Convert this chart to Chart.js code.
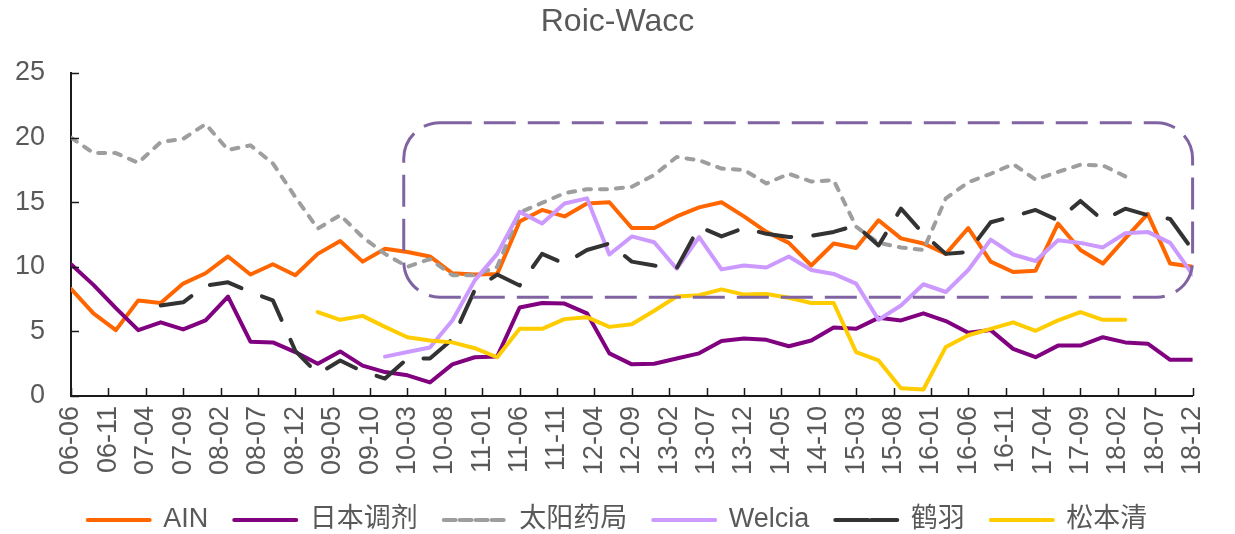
<!DOCTYPE html>
<html>
<head>
<meta charset="utf-8">
<script src="https://cdn.jsdelivr.net/npm/chart.js@4.4.0/dist/chart.umd.min.js"></script>
<style>
  html, body { margin: 0; padding: 0; background: #fff; }
  #wrap { width: 1235px; height: 534px; }
</style>
</head>
<body>
<div id="wrap"><canvas id="roicChart"></canvas></div>
<script>
// quarterly observations (yy-mm)
const quarters = [
  '06-06', '06-09', '06-12', '07-03', '07-06', '07-09', '07-12', '08-03', '08-06', '08-09',
  '08-12', '09-03', '09-06', '09-09', '09-12', '10-03', '10-06', '10-09', '10-12', '11-03',
  '11-06', '11-09', '11-12', '12-03', '12-06', '12-09', '12-12', '13-03', '13-06', '13-09',
  '13-12', '14-03', '14-06', '14-09', '14-12', '15-03', '15-06', '15-09', '15-12', '16-03',
  '16-06', '16-09', '16-12', '17-03', '17-06', '17-09', '17-12', '18-03', '18-06', '18-09',
  '18-12'
];

// axis labels, one every 5 months
const tickLabels = [
  '06-06', '06-11', '07-04', '07-09', '08-02', '08-07', '08-12', '09-05', '09-10', '10-03',
  '10-08', '11-01', '11-06', '11-11', '12-04', '12-09', '13-02', '13-07', '13-12', '14-05',
  '14-10', '15-03', '15-08', '16-01', '16-06', '16-11', '17-04', '17-09', '18-02', '18-07',
  '18-12'
];

const ain = [
  8.3, 6.4, 5.1, 7.4, 7.2, 8.7, 9.5, 10.8, 9.4, 10.2,
  9.35, 11.0, 12.0, 10.4, 11.4, 11.15, 10.8, 9.5, 9.4, 9.45,
  13.5, 14.4, 13.9, 14.9, 15.0, 13.0, 13.0, 13.9, 14.6, 15.0,
  13.9, 12.7, 11.85, 10.1, 11.8, 11.45, 13.6, 12.2, 11.8, 11.0,
  13.0, 10.4, 9.6, 9.7, 13.35, 11.3, 10.25, 12.2, 14.1, 10.25,
  10.0
];
const nipponChozai = [
  10.2, 8.6, 6.8, 5.1, 5.7, 5.15, 5.85, 7.7, 4.2, 4.15,
  3.4, 2.5, 3.45, 2.35, 1.85, 1.6, 1.05, 2.45, 3.0, 3.05,
  6.85, 7.2, 7.15, 6.4, 3.3, 2.45, 2.5, 2.9, 3.3, 4.25,
  4.45, 4.35, 3.85, 4.3, 5.3, 5.2, 6.05, 5.85, 6.4, 5.8,
  4.9, 5.1, 3.65, 3.0, 3.9, 3.9, 4.55, 4.15, 4.05, 2.8,
  2.8
];
const qol = [
  20.0, 18.8, 18.8, 18.05, 19.65, 19.9, 21.05, 19.05, 19.4, 18.0,
  15.4, 12.95, 14.0, 12.3, 11.0, 10.0, 10.6, 9.35, 9.35, 10.0,
  14.2, 14.95, 15.7, 16.0, 16.0, 16.2, 17.1, 18.5, 18.25, 17.6,
  17.5, 16.45, 17.2, 16.6, 16.7, 13.1, 11.85, 11.5, 11.3, 15.3,
  16.55, 17.2, 17.95, 16.75, 17.35, 17.9, 17.85, 17.0, null, null,
  null
];
const welcia = [
  null, null, null, null, null, null, null, null, null, null,
  null, null, null, null, 3.05, 3.4, 3.75, 5.85, 8.95, 11.0,
  14.25, 13.35, 14.9, 15.3, 10.95, 12.35, 11.9, 9.85, 12.3, 9.8,
  10.1, 9.95, 10.8, 9.75, 9.45, 8.7, 5.9, 7.0, 8.65, 8.05,
  9.75, 12.1, 10.95, 10.45, 12.05, 11.85, 11.5, 12.6, 12.7, 11.85,
  9.4
];
const tsuruha = [
  null, null, null, null, 7.0, 7.25, 8.55, 8.8, 8.05, 7.4,
  3.5, 1.7, 2.75, 1.9, 1.35, 2.9, 2.9, 4.4, 8.2, 9.4,
  8.55, 11.0, 10.25, 11.3, 11.8, 10.4, 10.1, 9.9, 13.1, 12.35,
  13.0, 12.55, 12.3, 12.4, 12.7, 13.2, 11.65, 14.5, 12.55, 11.0,
  11.15, 13.45, 13.9, 14.4, 13.6, 15.1, 13.6, 14.5, 14.0, 13.7,
  11.3
];
const matsukiyo = [
  null, null, null, null, null, null, null, null, null, null,
  null, 6.5, 5.9, 6.2, 5.35, 4.55, 4.3, 4.15, 3.7, 3.0,
  5.2, 5.2, 5.95, 6.1, 5.35, 5.55, 6.6, 7.7, 7.8, 8.25,
  7.85, 7.9, 7.6, 7.2, 7.2, 3.4, 2.75, 0.6, 0.5, 3.8,
  4.7, 5.2, 5.7, 5.05, 5.85, 6.5, 5.9, 5.9, null, null,
  null
];

// highlighted region, in months since 06-06 and in axis values
const focusBox = { xMin: 44.5, xMax: 150, yMin: 7.65, yMax: 21.15 };

const FONT = "'Liberation Sans', 'Noto Sans CJK SC', sans-serif";
const TEXT = '#595959';

function monthIndex(label) {
  const parts = label.split('-').map(Number);
  return (parts[0] - 6) * 12 + (parts[1] - 6);
}

function toPoints(values) {
  return values.map((v, i) => ({ x: monthIndex(quarters[i]), y: v }));
}

function series(label, values, color, dash, order) {
  return {
    label: label,
    data: toPoints(values),
    borderColor: color,
    backgroundColor: color,
    borderWidth: 4,
    borderDash: dash,
    borderCapStyle: 'round',
    borderJoinStyle: 'round',
    pointRadius: 0,
    tension: 0,
    spanGaps: false,
    order: order
  };
}

// inward tick marks and the dashed rounded box
const decorations = {
  id: 'decorations',
  afterDatasetsDraw(chart) {
    const { ctx, chartArea } = chart;
    const x = chart.scales.x;
    const y = chart.scales.y;
    ctx.save();
    ctx.strokeStyle = '#1a1a1a';
    ctx.lineWidth = 1.5;
    ctx.beginPath();
    x.ticks.forEach(t => {
      const px = Math.round(x.getPixelForValue(t.value)) + 0.5;
      ctx.moveTo(px, chartArea.bottom);
      ctx.lineTo(px, chartArea.bottom - 8);
    });
    y.ticks.forEach(t => {
      const py = Math.round(y.getPixelForValue(t.value)) + 0.5;
      ctx.moveTo(chartArea.left, py);
      ctx.lineTo(chartArea.left + 8, py);
    });
    ctx.stroke();

    const left = x.getPixelForValue(focusBox.xMin);
    const right = x.getPixelForValue(focusBox.xMax);
    const top = y.getPixelForValue(focusBox.yMax);
    const bottom = y.getPixelForValue(focusBox.yMin);
    ctx.strokeStyle = '#8064A2';
    ctx.lineWidth = 3;
    ctx.setLineDash([32, 12]);
    ctx.beginPath();
    ctx.roundRect(left, top, right - left, bottom - top, 36);
    ctx.stroke();
    ctx.restore();
  }
};

const ctx = document.getElementById('roicChart');
new Chart(ctx, {
  type: 'line',
  data: {
    datasets: [
      series('AIN', ain, '#FF6600', [], 6),
      series('日本调剂', nipponChozai, '#800080', [], 5),
      series('太阳药局', qol, '#9E9E9E', [7, 9], 4),
      series('Welcia', welcia, '#CC99FF', [], 3),
      series('鹤羽', tsuruha, '#333333', [33, 22], 2),
      series('松本清', matsukiyo, '#FFCC00', [], 1)
    ]
  },
  options: {
    responsive: true,
    maintainAspectRatio: false,
    animation: false,
    devicePixelRatio: 1,
    layout: { padding: { left: 0, right: 0, top: 0, bottom: -9.5 } },
    plugins: {
      title: {
        display: true,
        text: 'Roic-Wacc',
        color: TEXT,
        font: { family: FONT, size: 32, weight: 'normal' },
        padding: { top: 3, bottom: 31.6 }
      },
      legend: {
        position: 'bottom',
        labels: {
          color: TEXT,
          font: { family: FONT, size: 27 },
          boxWidth: 62,
          boxHeight: 0,
          padding: 26,
          sort: (a, b) => a.datasetIndex - b.datasetIndex
        }
      },
      tooltip: { enabled: false }
    },
    scales: {
      x: {
        type: 'linear',
        min: 0,
        max: 150,
        grid: { display: false, drawTicks: false },
        border: { color: '#1a1a1a', width: 2 },
        afterBuildTicks(scale) {
          scale.ticks = tickLabels.map((_, i) => ({ value: i * 5 }));
        },
        afterFit(scale) { scale.height = 84.5; },
        ticks: {
          autoSkip: false,
          minRotation: 90,
          maxRotation: 90,
          padding: 10,
          color: TEXT,
          font: { family: FONT, size: 27 },
          callback: (value, index) => tickLabels[index]
        }
      },
      y: {
        min: 0,
        max: 25,
        grid: { display: false, drawTicks: false },
        border: { color: '#1a1a1a', width: 2 },
        afterFit(scale) { scale.width = 71; },
        ticks: {
          stepSize: 5,
          padding: 26,
          color: TEXT,
          font: { family: FONT, size: 27 }
        }
      },
      // empty right-hand margin so title and legend stay centred on the page
      yRight: {
        position: 'right',
        display: true,
        min: 0,
        max: 25,
        grid: { display: false, drawTicks: false },
        border: { display: false },
        ticks: { display: false },
        afterFit(scale) { scale.width = 38; }
      }
    }
  },
  plugins: [decorations]
});
</script>
</body>
</html>
